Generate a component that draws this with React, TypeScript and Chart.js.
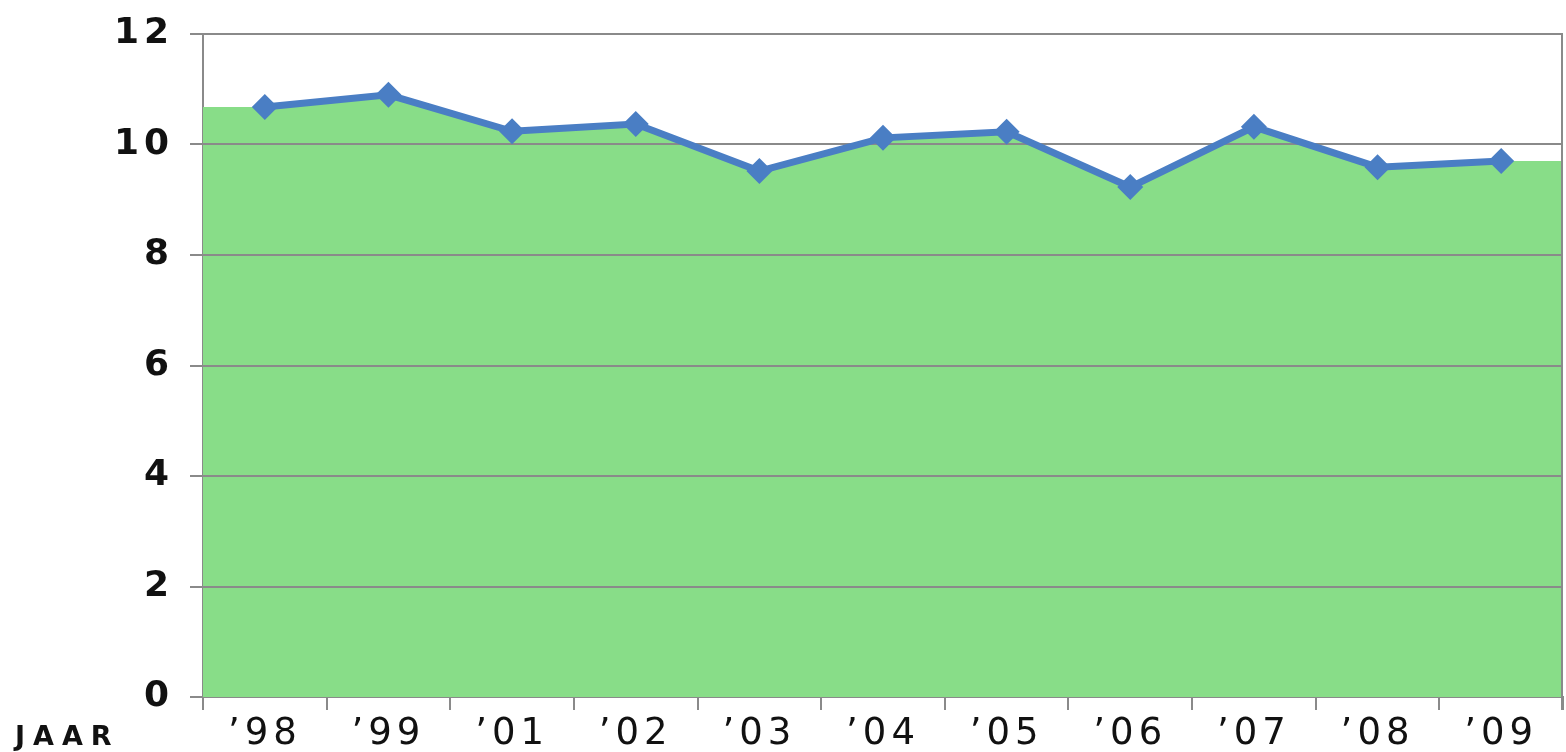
import React, { useEffect, useRef } from "react";
import { Chart, registerables } from "chart.js";

Chart.register(...registerables);

const categories = ["’98", "’99", "’01", "’02", "’03", "’04", "’05", "’06", "’07", "’08", "’09"];
const values = [10.68, 10.9, 10.24, 10.37, 9.52, 10.12, 10.23, 9.23, 10.32, 9.59, 9.7];
const yTicks = [0, 2, 4, 6, 8, 10, 12];
const axisTitle = "JAAR";

const GRID = "#8a8a8a";
const GREEN = "#88dd88";
const BLUE = "#4a7ec4";
const FONT = "'DejaVu Sans', sans-serif";

export default function App() {
  const ref = useRef<HTMLCanvasElement | null>(null);

  useEffect(() => {
    if (!ref.current) return;
    const areaData = [
      { x: -0.5, y: values[0] },
      ...values.map((v, i) => ({ x: i, y: v })),
      { x: values.length - 0.5, y: values[values.length - 1] },
    ];

    const overlay = {
      id: "overlay",
      beforeDraw(chart: any) {
        chart.ctx.letterSpacing = "5px";
      },
      afterDatasetDraw(chart: any, args: any) {
        if (args.index !== 0) return;
        const { ctx, chartArea } = chart;
        const y = chart.scales.y;
        ctx.save();
        ctx.strokeStyle = GRID;
        ctx.lineWidth = 2;
        yTicks.forEach((t) => {
          if (t === 0) return;
          const py = Math.round(y.getPixelForValue(t));
          ctx.beginPath();
          ctx.moveTo(chartArea.left, py);
          ctx.lineTo(chartArea.right, py);
          ctx.stroke();
        });
        ctx.beginPath();
        ctx.moveTo(chartArea.right - 1, chartArea.top);
        ctx.lineTo(chartArea.right - 1, chartArea.bottom + 13);
        ctx.stroke();
        ctx.restore();
      },
      afterDraw(chart: any) {
        const ctx = chart.ctx;
        ctx.save();
        ctx.letterSpacing = "8px";
        ctx.fillStyle = "#111";
        ctx.font = `bold 27px ${FONT}`;
        ctx.textBaseline = "alphabetic";
        ctx.textAlign = "left";
        ctx.fillText(axisTitle, 15, 745);
        ctx.restore();
      },
    };

    const chart = new Chart(ref.current, {
      type: "line",
      data: {
        labels: categories,
        datasets: [
          {
            data: areaData as any,
            xAxisID: "x2",
            fill: "origin",
            backgroundColor: GREEN,
            borderWidth: 0,
            pointRadius: 0,
            tension: 0,
            order: 2,
          },
          {
            data: values,
            xAxisID: "x",
            fill: false,
            borderColor: BLUE,
            borderWidth: 7,
            pointStyle: "rectRot",
            pointRadius: 13,
            pointBackgroundColor: BLUE,
            pointBorderColor: BLUE,
            pointBorderWidth: 0,
            tension: 0,
            order: 1,
          },
        ],
      },
      options: {
        animation: false,
        responsive: false,
        maintainAspectRatio: false,
        layout: { autoPadding: false, padding: { top: 34, right: 3, left: 0, bottom: 0 } },
        plugins: { legend: { display: false }, tooltip: { enabled: false } },
        scales: {
          x: {
            type: "category",
            offset: true,
            afterFit(s: any) {
              s.height = 55;
              s.paddingLeft = 0;
              s.paddingRight = 0;
              s.paddingTop = 0;
              s.paddingBottom = 0;
            },
            grid: {
              offset: true,
              drawOnChartArea: false,
              drawTicks: true,
              tickLength: 13,
              color: GRID,
              lineWidth: 2,
            },
            border: { display: true, color: GRID, width: 2 },
            ticks: {
              color: "#111",
              font: { family: FONT, size: 37 },
              padding: 2,
              maxRotation: 0,
              autoSkip: false,
            },
          },
          x2: {
            type: "linear",
            display: false,
            min: -0.5,
            max: values.length - 0.5,
          },
          y: {
            min: 0,
            max: 12,
            afterFit(s: any) {
              s.width = 203;
              s.paddingLeft = 0;
              s.paddingRight = 0;
              s.paddingTop = 0;
              s.paddingBottom = 0;
            },
            afterBuildTicks(s: any) {
              s.ticks = yTicks.map((v) => ({ value: v }));
            },
            grid: {
              drawOnChartArea: false,
              drawTicks: true,
              tickLength: 13,
              color: GRID,
              lineWidth: 2,
            },
            border: { display: true, color: GRID, width: 2 },
            ticks: {
              color: "#111",
              font: { family: FONT, size: 36, weight: "bold" },
              padding: 16,
            },
          },
        },
      },
      plugins: [overlay],
    });
    return () => chart.destroy();
  }, []);

  return (
    <div style={{ position: "fixed", left: 0, top: 0, width: 1566, height: 752, background: "#fff" }}>
      <canvas ref={ref} width={1566} height={752} style={{ display: "block", width: 1566, height: 752 }} />
    </div>
  );
}
